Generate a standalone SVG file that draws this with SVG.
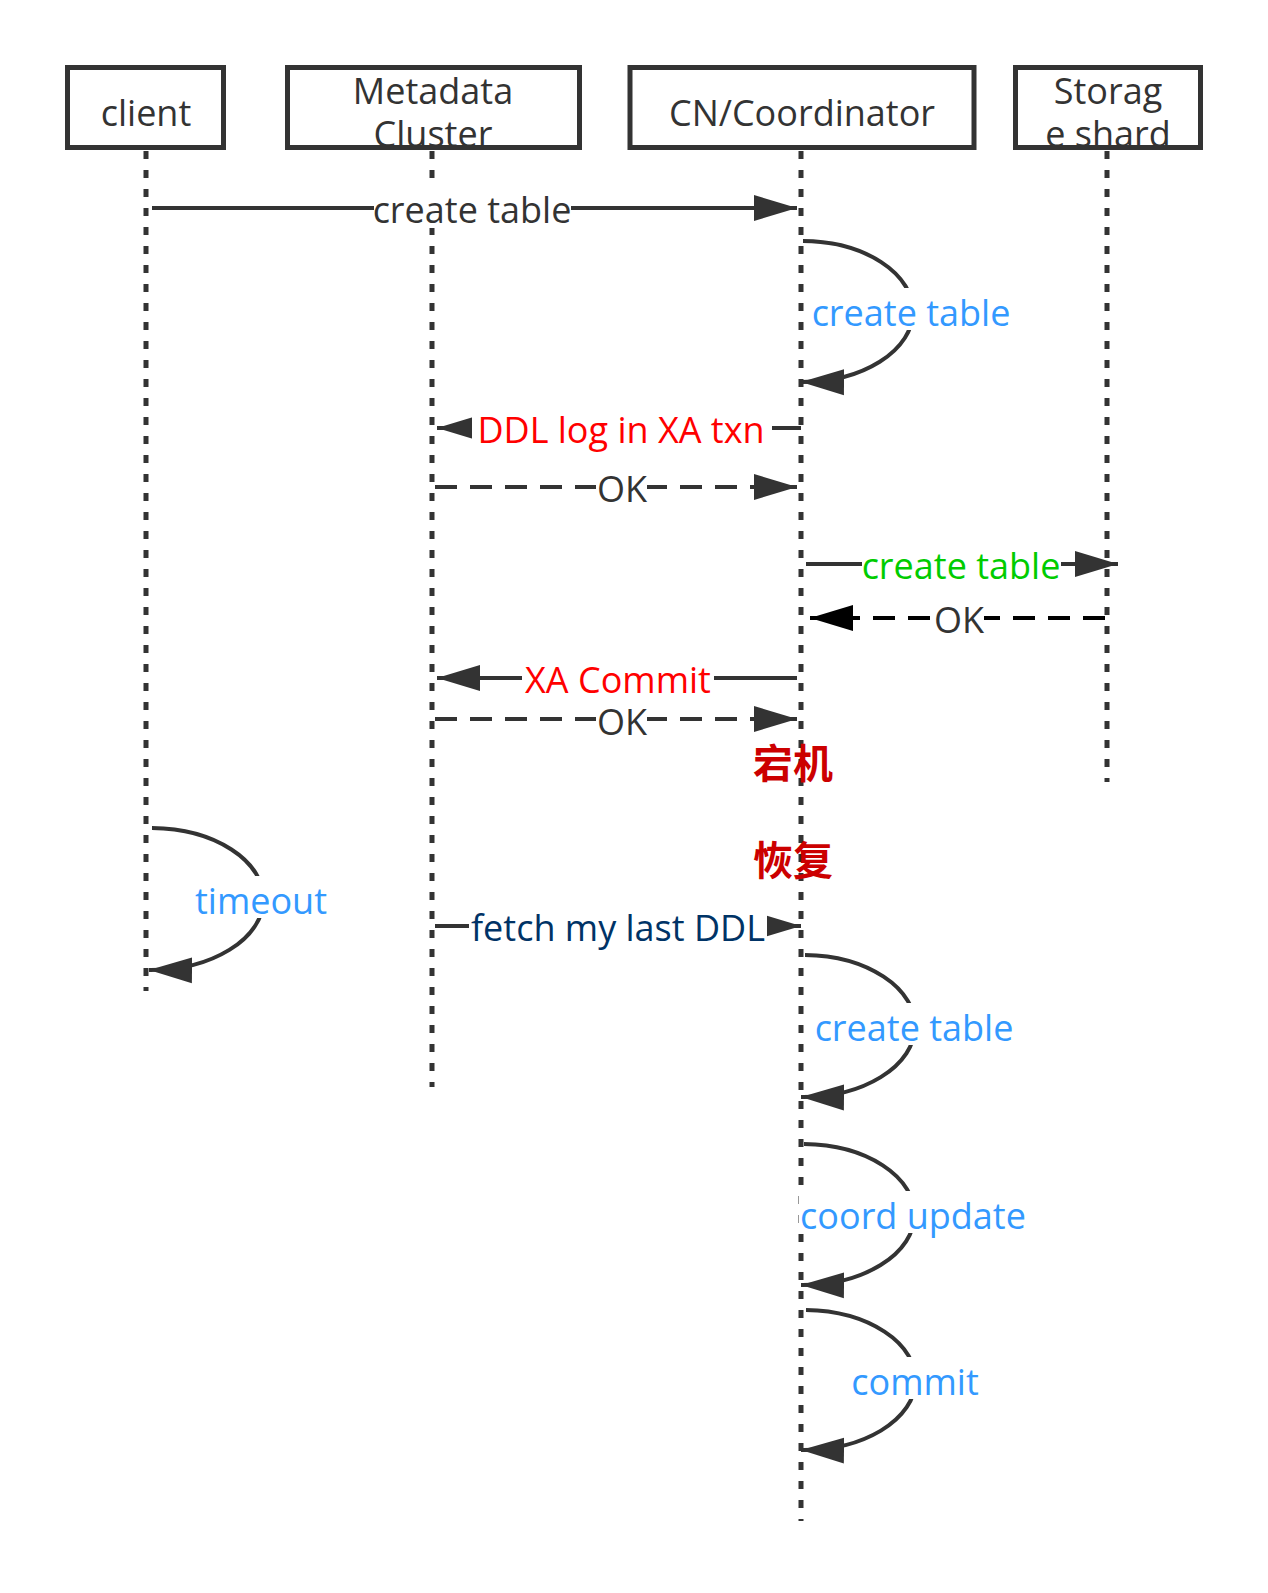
<svg xmlns="http://www.w3.org/2000/svg" width="1268" height="1593" viewBox="0 0 1268 1593">
<style>
.box{fill:#fff;stroke:#333;stroke-width:5}
.life{stroke:#333;stroke-width:5;stroke-dasharray:8 11;fill:none}
.msg{stroke:#333;stroke-width:4;fill:none}
.blk{stroke:#000}
.dash{stroke-dasharray:22 13}
.bg{fill:#fff}
text{font-family:"Open Sans","Noto Sans",sans-serif;font-size:36px;text-anchor:middle;fill:#333}
.blue{fill:#3399FF}
.red{fill:#FF0000}
.green{fill:#00CC00}
.navy{fill:#003366}
.cjk{font-family:"Noto Sans CJK SC","Noto Sans CJK JP",sans-serif;font-weight:bold;fill:#CC0000;font-size:40px}
</style>
<defs>
<marker id="ah" markerUnits="userSpaceOnUse" markerWidth="44" markerHeight="28" viewBox="0 0 44 28" refX="43" refY="14" orient="auto">
<path d="M0,1 L43,14 L0,27 z" fill="#333"/>
</marker>
<marker id="ahk" markerUnits="userSpaceOnUse" markerWidth="44" markerHeight="28" viewBox="0 0 44 28" refX="43" refY="14" orient="auto">
<path d="M0,1 L43,14 L0,27 z" fill="#000"/>
</marker>
</defs>
<rect width="1268" height="1593" fill="#fff"/>
<g id="node-client">
<line class="life" x1="146" y1="151" x2="146" y2="991"/>
<rect class="box" x="67.5" y="67.5" width="156" height="80"/>
<text x="146" y="126">client</text>
</g>
<g id="node-metadata">
<line class="life" x1="432" y1="151" x2="432" y2="1087"/>
<rect class="box" x="287.5" y="67.5" width="292" height="80"/>
<text x="433" y="104">Metadata</text>
<text x="433" y="147">Cluster</text>
</g>
<g id="node-cn">
<line class="life" x1="801" y1="151" x2="801" y2="1521"/>
<rect class="box" x="630" y="67.5" width="344" height="80"/>
<text x="802" y="126">CN/Coordinator</text>
</g>
<g id="node-storage">
<line class="life" x1="1107" y1="151" x2="1107" y2="782"/>
<rect class="box" x="1015.5" y="67.5" width="185" height="80"/>
<text x="1108" y="104">Storag</text>
<text x="1108" y="147">e shard</text>
</g>
<g id="connectors">
<g id="e1">
<line class="msg" x1="152" y1="208" x2="797" y2="208" marker-end="url(#ah)"/>
<rect class="bg" x="374" y="186" width="197" height="42"/>
<text x="472" y="223">create table</text>
</g>
<g id="e2">
<path class="msg" d="M803,241 A111,70.5 0 0 1 801,382" marker-end="url(#ah)"/>
<rect class="bg" x="812" y="288" width="198" height="42"/>
<text class="blue" x="911" y="326">create table</text>
</g>
<g id="e3">
<line class="msg" x1="801" y1="428" x2="437" y2="428" marker-end="url(#ah)"/>
<rect class="bg" x="472" y="405" width="300" height="42"/>
<text class="red" x="621" y="443">DDL log in XA txn</text>
</g>
<g id="e4">
<line class="msg dash" x1="435" y1="487" x2="797" y2="487" marker-end="url(#ah)"/>
<rect class="bg" x="596" y="464" width="51" height="42"/>
<text x="622" y="502">OK</text>
</g>
<g id="e5">
<line class="msg" x1="806" y1="564" x2="1118" y2="564" marker-end="url(#ah)"/>
<rect class="bg" x="862" y="541" width="199" height="42"/>
<text class="green" x="961" y="579">create table</text>
</g>
<g id="e6">
<line class="msg blk dash" x1="1105" y1="618" x2="810" y2="618" marker-end="url(#ahk)"/>
<rect class="bg" x="934" y="595" width="50" height="42"/>
<text x="959" y="633">OK</text>
</g>
<g id="e7">
<line class="msg" x1="797" y1="678" x2="437" y2="678" marker-end="url(#ah)"/>
<rect class="bg" x="522" y="655" width="192" height="42"/>
<text class="red" x="618" y="693">XA Commit</text>
</g>
<g id="e8">
<line class="msg dash" x1="435" y1="719" x2="797" y2="719" marker-end="url(#ah)"/>
<rect class="bg" x="596" y="700" width="51" height="40"/>
<text x="622" y="735">OK</text>
</g>
<g id="e9">
<path class="msg" d="M152,828 A113,71 0 0 1 149,970" marker-end="url(#ah)"/>
<rect class="bg" x="196" y="876" width="131" height="42"/>
<text class="blue" x="261" y="914">timeout</text>
</g>
<g id="e10">
<line class="msg" x1="435" y1="926" x2="801" y2="926" marker-end="url(#ah)"/>
<rect class="bg" x="469" y="903" width="298" height="42"/>
<text class="navy" x="618" y="941">fetch my last DDL</text>
</g>
<g id="e11">
<path class="msg" d="M805,955 A112,71 0 0 1 801,1097" marker-end="url(#ah)"/>
<rect class="bg" x="815" y="1003" width="198" height="42"/>
<text class="blue" x="914" y="1041">create table</text>
</g>
<g id="e12">
<path class="msg" d="M804,1144 A112,70.5 0 0 1 801,1285" marker-end="url(#ah)"/>
<rect class="bg" x="799" y="1191" width="228" height="42"/>
<text class="blue" x="913" y="1229">coord update</text>
</g>
<g id="e13">
<path class="msg" d="M806,1310 A112,70 0 0 1 801,1450" marker-end="url(#ah)"/>
<rect class="bg" x="851" y="1357" width="129" height="42"/>
<text class="blue" x="915" y="1395">commit</text>
</g>
</g>
<g id="notes">
<text class="cjk" x="793" y="778">宕机</text>
<text class="cjk" x="793" y="875">恢复</text>
</g>
</svg>
